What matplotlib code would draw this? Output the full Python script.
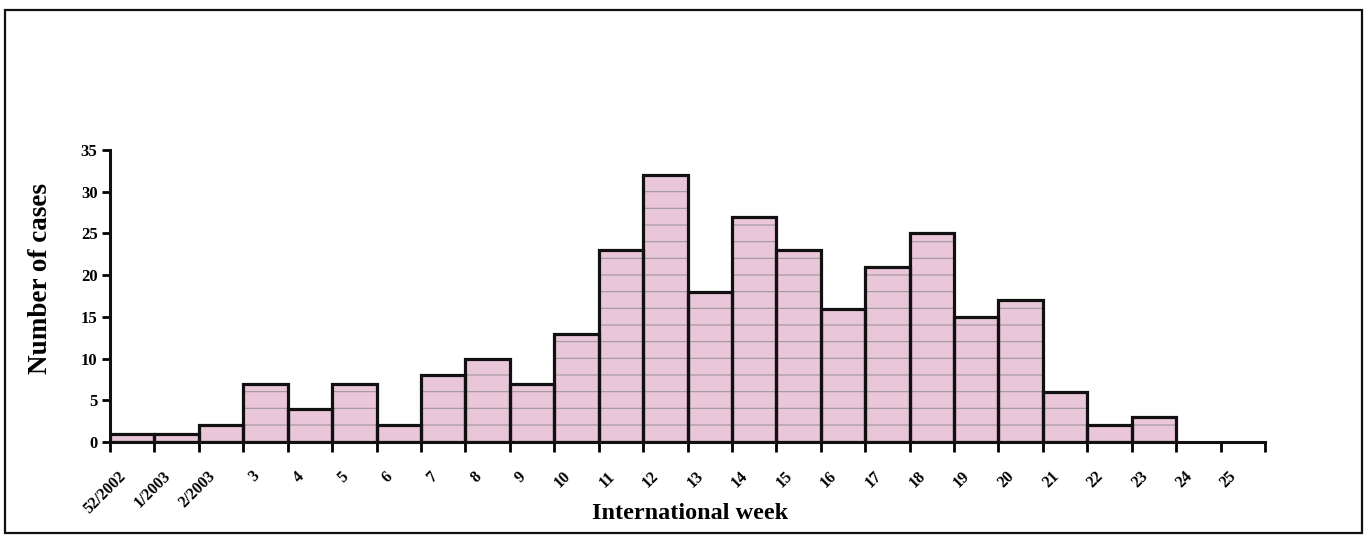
import matplotlib
matplotlib.use("Agg")
import matplotlib.pyplot as plt
import numpy as np
from matplotlib.patches import Rectangle

# casos por semana internacional
weeks = ["52/2002", "1/2003", "2/2003", "3", "4", "5", "6", "7", "8", "9", "10",
         "11", "12", "13", "14", "15", "16", "17", "18", "19", "20", "21", "22",
         "23", "24", "25"]
cases = [1, 1, 2, 7, 4, 7, 2, 8, 10, 7, 13, 23, 32, 18, 27, 23, 16, 21, 25,
         15, 17, 6, 2, 3]

plt.rcParams["font.family"] = "Liberation Serif"
plt.rcParams["font.weight"] = "bold"
plt.rcParams["hatch.linewidth"] = 0.8

fig = plt.figure(figsize=(13.65, 5.36), dpi=100)
ax = fig.add_axes([110 / 1365, 1 - 442 / 536, 1155 / 1365, 292 / 536])

pos = np.arange(len(cases))
# fundo rosa com listras cinzas
ax.bar(pos, cases, width=1.0, align="edge", color="#eac6d9",
       edgecolor="#a0959b", linewidth=0, hatch="-", zorder=2)
# contorno preto
ax.bar(pos, cases, width=1.0, align="edge", fill=False,
       edgecolor="#111111", linewidth=2.3, zorder=3)

ax.set_xlim(0, len(weeks))
ax.set_ylim(0, 35)
# marcas nas bordas das barras, rótulos um pouco à direita
ax.set_xticks(np.arange(len(weeks) + 1))
ax.set_xticklabels([])
ax.set_xticks(np.arange(len(weeks)) + 0.18, minor=True)
ax.set_xticklabels(weeks, minor=True, rotation=45, ha="right", va="top",
                   rotation_mode="anchor", fontsize=11.5, fontweight="bold")
ax.tick_params(axis="x", which="major", length=7, width=2)
ax.tick_params(axis="x", which="minor", length=0, pad=19)
ax.set_yticks(np.arange(0, 36, 5))
ax.tick_params(axis="y", labelsize=12, length=6, width=2, pad=3)
for lab in ax.get_yticklabels():
    lab.set_fontweight("bold")

for s in ["top", "right"]:
    ax.spines[s].set_visible(False)
for s in ["left", "bottom"]:
    ax.spines[s].set_linewidth(2.2)
    ax.spines[s].set_color("#111111")
ax.spines["bottom"].set_zorder(4)

ax.set_ylabel("Number of cases", fontsize=19.5, fontweight="bold")
ax.yaxis.set_label_coords(-(110 - 53) / 1155, (442 - 278) / 292)
ax.set_xlabel("International week", fontsize=17.5, fontweight="bold")
ax.xaxis.set_label_coords((690 - 110) / 1155, -(503 - 442) / 292)

# moldura da figura
fig.patches.append(Rectangle((5 / 1365, 3 / 536), 1357 / 1365, 523 / 536,
                             transform=fig.transFigure, fill=False,
                             edgecolor="#111111", linewidth=1.6))

fig.savefig("out.png", dpi=100)
